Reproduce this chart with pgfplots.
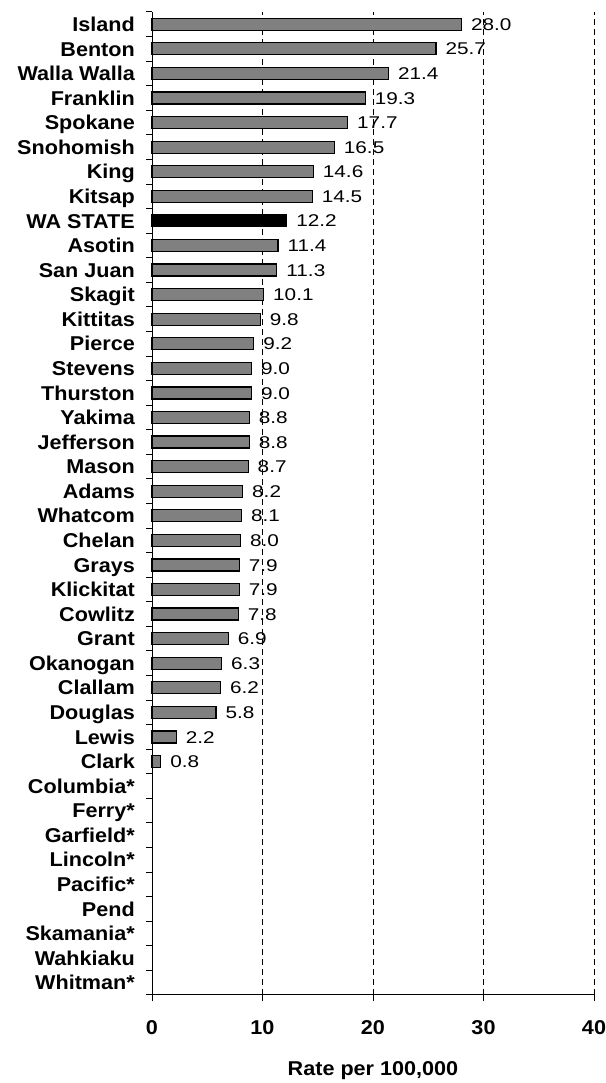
\documentclass[border=0pt]{standalone}
\usepackage{fontspec}
\setmainfont{Liberation Sans}
\newfontfamily\labfont{Liberation Sans}[FakeStretch=1.08]
\newfontfamily\valfont{Liberation Sans}[FakeStretch=1.22]
\usepackage{pgfplots}
\pgfplotsset{compat=1.18}
\definecolor{bargray}{RGB}{128,128,128}
\begin{document}
\begin{tikzpicture}
\begin{axis}[
  at={(152pt,88pt)}, anchor=south west,
  scale only axis, width=442pt, height=983pt,
  xmin=0, xmax=40, ymin=-0.5, ymax=39.5,
  clip=false,
  axis x line*=bottom, axis y line*=left,
  axis line style={line width=1pt, black, -},
  /pgf/number format/assume math mode=true,
  xtick={0,10,20,30,40},
  ytick={0,...,39},
  yticklabels={Whitman*,Wahkiaku,Skamania*,Pend,Pacific*,Lincoln*,Garfield*,Ferry*,Columbia*,Clark,Lewis,Douglas,Clallam,Okanogan,Grant,Cowlitz,Klickitat,Grays,Chelan,Whatcom,Adams,Mason,Jefferson,Yakima,Thurston,Stevens,Pierce,Kittitas,Skagit,San Juan,Asotin,WA STATE,Kitsap,King,Snohomish,Spokane,Franklin,Walla Walla,Benton,Island},
  minor ytick={-0.5,0.5,1.5,2.5,3.5,4.5,5.5,6.5,7.5,8.5,9.5,10.5,11.5,12.5,13.5,14.5,15.5,16.5,17.5,18.5,19.5,20.5,21.5,22.5,23.5,24.5,25.5,26.5,27.5,28.5,29.5,30.5,31.5,32.5,33.5,34.5,35.5,36.5,37.5,38.5,39.5},
  major y tick style={draw=none},
  minor y tick style={black, line width=1pt},
  major x tick style={black, line width=1pt},
  tick align=outside, major tick length=6pt, minor tick length=6pt,
  xmajorgrids,
  major x grid style={black, dash pattern=on 6pt off 4pt, line width=0.8pt},
  yticklabel style={font=\labfont\bfseries\fontsize{20}{24}\selectfont, inner sep=0pt, anchor=east, xshift=-11pt, text height=14.3pt, text depth=0pt},
  xticklabel style={font=\labfont\bfseries\fontsize{20}{24}\selectfont, inner sep=0pt, anchor=north, yshift=-18.8pt, text height=14.3pt, text depth=0pt},
  xlabel={Rate per 100,000},
  xlabel style={font=\labfont\bfseries\fontsize{20}{24}\selectfont, at={(axis description cs:0.5,0)}, anchor=base, yshift=-80pt, inner sep=0pt},
  xbar, bar width=12pt,
  nodes near coords={\pgfmathprintnumber[fixed,fixed zerofill,precision=1]{\pgfplotspointmeta}},
  point meta=x,
  every node near coord/.append style={font=\valfont\fontsize{17}{20}\selectfont, black, anchor=west, inner sep=0pt, xshift=9pt, text height=12.2pt, text depth=0pt},
]
\addplot[xbar, bar shift=0pt, fill=bargray, draw=black, line width=1.2pt] coordinates {
(28.0,39) (25.7,38) (21.4,37) (19.3,36) (17.7,35) (16.5,34) (14.6,33) (14.5,32)
(11.4,30) (11.3,29) (10.1,28) (9.8,27) (9.2,26) (9.0,25) (9.0,24) (8.8,23)
(8.8,22) (8.7,21) (8.2,20) (8.1,19) (8.0,18) (7.9,17) (7.9,16) (7.8,15)
(6.9,14) (6.3,13) (6.2,12) (5.8,11) (2.2,10) (0.8,9)};
\addplot[xbar, bar shift=0pt, fill=black, draw=black, line width=1.2pt] coordinates {(12.2,31)};
\end{axis}
\pgfresetboundingbox
\path[use as bounding box] (0,0) rectangle (605pt,1083pt);
\end{tikzpicture}
\end{document}
